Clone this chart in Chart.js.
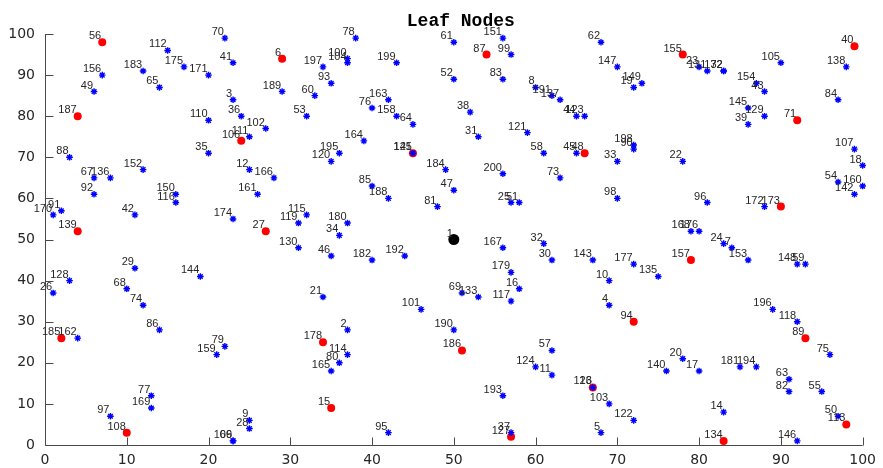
<!DOCTYPE html>
<html>
<head>
<meta charset="utf-8">
<script src="https://cdn.jsdelivr.net/npm/chart.js@4/dist/chart.umd.min.js"></script>
<style>
  html, body { margin: 0; padding: 0; background: #fff; }
  #wrap { width: 883px; height: 468px; }
</style>
</head>
<body>
<div id="wrap"><canvas id="leafChart" width="883" height="468"></canvas></div>
<script>
// blue '*' nodes
const blueIds = ['70','112','175','41','156','183','171','65','49','3','36','110','111','35','88',
  '78','100','104','197','199','93','189','60','163','76','53','158','102','64','164','141','195','120','184',
  '61','52','151','99','62','83','147','8','191','137','149','19','38','44','123','31','121','58','45','198','90','33','200','73',
  '23','131','132','72','105','138','154','43','84','145','129','39','107','18','22',
  '152','67','136','92','150','116','91','170','42','174','29','144','128','26','68','74',
  '12','161','166','85','47','188','81','115','119','180','34','130','46','182','192','21','101',
  '25','51','98','167','32','30','143','177','135','179','10','16','69','133','117','4',
  '96','172','54','160','142','168','176','24','7','153','148','59','196',
  '162','86','79','159','77','169','97','109','66','9','28',
  '2','114','80','165','95','190','57','124','11','13','193','103','122','5','37',
  '118','75','20','140','17','181','194','63','82','55','14','50','146'];
const blueX = [22,15,17,23,7,12,20,14,6,23,24,20,25,20,3,
  38,37,37,34,43,35,29,33,42,40,32,43,27,45,39,45,36,35,49,
  50,50,56,57,68,56,70,60,62,63,73,72,52,65,66,53,59,61,65,72,72,70,56,63,
  80,81,83,83,90,98,87,88,97,86,88,86,99,100,78,
  12,6,8,6,16,16,2,1,11,23,11,19,3,1,10,12,
  25,26,28,40,50,42,48,32,31,37,36,31,35,40,44,34,46,
  57,58,70,56,61,62,67,72,75,57,69,58,51,53,57,69,
  81,88,97,100,99,79,80,83,84,86,92,93,89,
  4,14,22,21,13,13,8,23,23,25,25,
  37,37,36,35,42,50,62,60,62,67,56,69,72,68,57,
  92,96,78,76,80,85,87,91,91,95,83,97,92];
const blueY = [99,96,92,93,90,91,90,87,86,84,80,79,75,71,70,
  99,94,93,92,93,88,86,85,84,82,80,80,77,78,74,71,71,69,67,
  98,89,99,95,98,89,92,87,85,84,88,87,81,80,80,75,76,71,71,73,72,69,66,65,
  92,91,91,91,93,92,88,86,84,82,80,78,72,68,69,
  67,65,65,61,61,59,57,56,56,55,43,41,40,37,38,34,
  67,61,65,63,62,60,58,56,54,54,51,48,46,45,46,36,33,
  59,59,60,48,49,45,45,44,41,42,40,38,37,36,35,34,
  59,58,64,63,61,52,52,49,48,45,44,44,33,
  26,28,24,22,12,9,7,1,1,6,4,
  28,22,20,18,3,28,23,19,17,14,12,10,6,3,3,
  30,22,21,18,18,19,19,16,13,13,8,7,1];

// red circle nodes
const redIds = ['56','187','106','6','125','87','48','155','40','71','27','139','173',
  '157','185','108','178','15','186','127','126','94','89','113','134'];
const redX = [7,4,24,29,45,54,66,78,99,92,27,4,90,79,2,10,34,35,51,57,67,72,93,98,83];
const redY = [98,80,74,94,71,95,71,95,97,79,52,52,58,45,26,3,25,9,23,2,14,30,26,5,1];

// root node
const rootIds = ['1'];
const rootX = [50];
const rootY = [50];

const tickValues = [0, 10, 20, 30, 40, 50, 60, 70, 80, 90, 100];

function toPoints(xs, ys) {
  return xs.map((x, i) => ({ x: x, y: ys[i] }));
}

const axisColor = '#4a4a4a';
const textColor = '#262626';

// MATLAB style: box off, ticks pointing inwards
const axesPlugin = {
  id: 'matlabAxes',
  beforeDatasetsDraw(chart) {
    const { ctx, chartArea, scales } = chart;
    ctx.save();
    ctx.strokeStyle = axisColor;
    ctx.lineWidth = 1;
    ctx.beginPath();
    const left = Math.round(chartArea.left) + 0.5;
    const bottom = Math.round(chartArea.bottom) + 0.5;
    ctx.moveTo(left, chartArea.top);
    ctx.lineTo(left, bottom);
    ctx.lineTo(chartArea.right, bottom);
    tickValues.forEach(v => {
      const px = Math.round(scales.x.getPixelForValue(v)) + 0.5;
      ctx.moveTo(px, bottom);
      ctx.lineTo(px, bottom - 8);
      const py = Math.round(scales.y.getPixelForValue(v)) + 0.5;
      ctx.moveTo(left, py);
      ctx.lineTo(left + 8, py);
    });
    ctx.stroke();
    ctx.restore();
  },
  afterDraw(chart) {
    const { ctx, chartArea } = chart;
    ctx.save();
    ctx.font = 'bold 18px "Liberation Mono", "Courier New", monospace';
    ctx.fillStyle = '#000';
    ctx.textAlign = 'center';
    ctx.textBaseline = 'alphabetic';
    ctx.fillText('Leaf Nodes', (chartArea.left + chartArea.right) / 2 + 7, 26);
    ctx.restore();
  }
};

const labelPlugin = {
  id: 'nodeLabels',
  afterDatasetsDraw(chart) {
    const ctx = chart.ctx;
    ctx.save();
    ctx.font = '11px "Liberation Sans", Arial, sans-serif';
    ctx.fillStyle = textColor;
    ctx.textAlign = 'right';
    ctx.textBaseline = 'alphabetic';
    chart.data.datasets.forEach((ds, di) => {
      chart.getDatasetMeta(di).data.forEach((pt, i) => {
        ctx.fillText(ds.nodeLabels[i], pt.x - 1, pt.y - 3);
      });
    });
    ctx.restore();
  }
};

const tickFont = { family: '"DejaVu Sans", Arial, sans-serif', size: 14 };

new Chart(document.getElementById('leafChart'), {
  type: 'scatter',
  data: {
    datasets: [
      { data: toPoints(blueX, blueY), nodeLabels: blueIds, pointStyle: 'star', radius: 3.3,
        borderColor: '#0000ff', backgroundColor: '#0000ff', borderWidth: 1.4 },
      { data: toPoints(redX, redY), nodeLabels: redIds, pointStyle: 'circle', radius: 4,
        borderColor: '#ff0000', backgroundColor: '#ff0000', borderWidth: 0 },
      { data: toPoints(rootX, rootY), nodeLabels: rootIds, pointStyle: 'circle', radius: 5.5,
        borderColor: '#000', backgroundColor: '#000', borderWidth: 0 }
    ]
  },
  options: {
    responsive: false,
    animation: false,
    devicePixelRatio: 1,
    clip: false,
    layout: { padding: { top: 34, right: 15, left: 0, bottom: 0 } },
    plugins: { legend: { display: false }, tooltip: { enabled: false } },
    elements: { point: { hoverRadius: 4 } },
    scales: {
      x: {
        min: 0, max: 100,
        afterBuildTicks: s => { s.ticks = tickValues.map(v => ({ value: v })); },
        afterFit: s => { s.height = 23; },
        grid: { display: false, drawTicks: false },
        border: { display: false },
        ticks: { font: tickFont, color: textColor, padding: 7, maxRotation: 0 }
      },
      y: {
        min: 0, max: 100,
        afterBuildTicks: s => { s.ticks = tickValues.map(v => ({ value: v })); },
        afterFit: s => { s.width = 45; },
        grid: { display: false, drawTicks: false },
        border: { display: false },
        ticks: { font: tickFont, color: textColor, padding: 10 }
      }
    }
  },
  plugins: [axesPlugin, labelPlugin]
});
</script>
</body>
</html>
